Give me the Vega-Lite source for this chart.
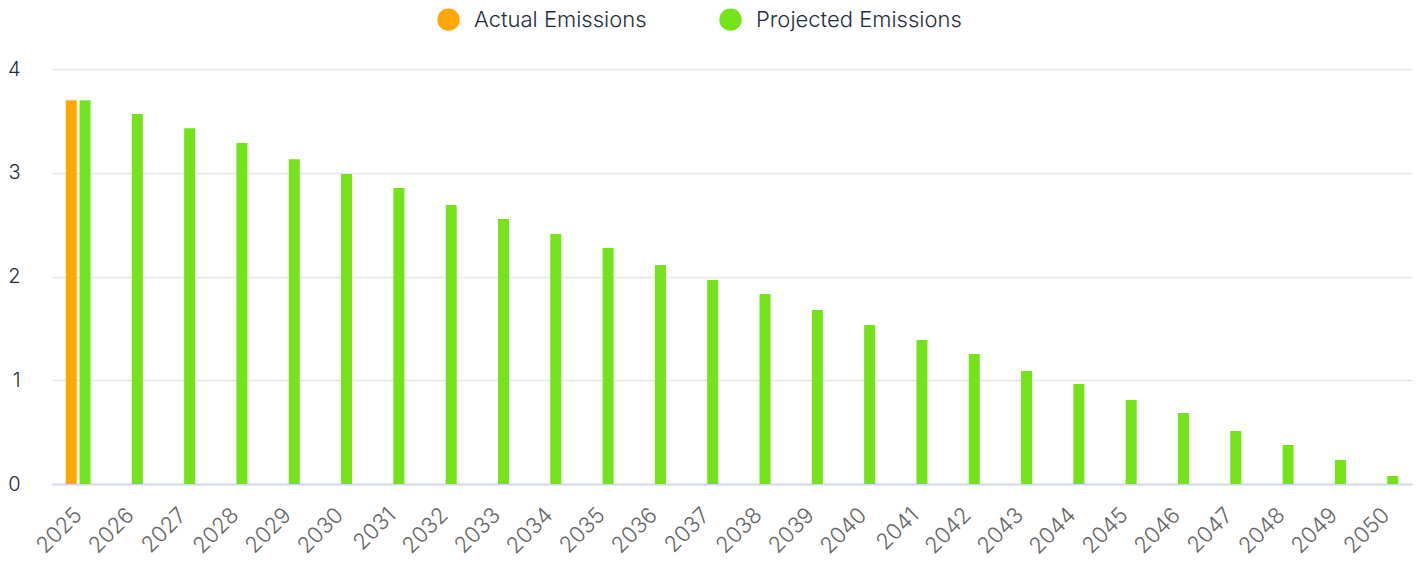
{
  "$schema": "https://vega.github.io/schema/vega-lite/v6.json",
  "width": 1360,
  "height": 415,
  "autosize": {"type": "none"},
  "padding": {"left": 52, "top": 69, "right": 13, "bottom": 81},
  "config": {
    "font": "Inter",
    "view": {"stroke": null},
    "axis": {"labelFont": "Inter", "titleFont": "Inter"},
    "legend": {"labelFont": "Inter"}
  },
  "data": {
    "values": [
      {"year": "2025", "series": "Actual Emissions", "value": 3.70},
      {"year": "2025", "series": "Projected Emissions", "value": 3.70},
      {"year": "2026", "series": "Projected Emissions", "value": 3.566},
      {"year": "2027", "series": "Projected Emissions", "value": 3.43},
      {"year": "2028", "series": "Projected Emissions", "value": 3.287},
      {"year": "2029", "series": "Projected Emissions", "value": 3.13},
      {"year": "2030", "series": "Projected Emissions", "value": 2.988},
      {"year": "2031", "series": "Projected Emissions", "value": 2.853},
      {"year": "2032", "series": "Projected Emissions", "value": 2.689},
      {"year": "2033", "series": "Projected Emissions", "value": 2.554},
      {"year": "2034", "series": "Projected Emissions", "value": 2.41},
      {"year": "2035", "series": "Projected Emissions", "value": 2.275},
      {"year": "2036", "series": "Projected Emissions", "value": 2.11},
      {"year": "2037", "series": "Projected Emissions", "value": 1.966},
      {"year": "2038", "series": "Projected Emissions", "value": 1.831},
      {"year": "2039", "series": "Projected Emissions", "value": 1.677},
      {"year": "2040", "series": "Projected Emissions", "value": 1.532},
      {"year": "2041", "series": "Projected Emissions", "value": 1.388},
      {"year": "2042", "series": "Projected Emissions", "value": 1.253},
      {"year": "2043", "series": "Projected Emissions", "value": 1.089},
      {"year": "2044", "series": "Projected Emissions", "value": 0.964},
      {"year": "2045", "series": "Projected Emissions", "value": 0.81},
      {"year": "2046", "series": "Projected Emissions", "value": 0.684},
      {"year": "2047", "series": "Projected Emissions", "value": 0.511},
      {"year": "2048", "series": "Projected Emissions", "value": 0.376},
      {"year": "2049", "series": "Projected Emissions", "value": 0.231},
      {"year": "2050", "series": "Projected Emissions", "value": 0.077}
    ]
  },
  "mark": {"type": "bar"},
  "encoding": {
    "x": {
      "field": "year",
      "type": "ordinal",
      "scale": {"paddingInner": 0, "paddingOuter": 0},
      "axis": {
        "title": null,
        "labelAngle": -45,
        "labelAlign": "right",
        "labelBaseline": "top",
        "labelFontSize": 22,
        "labelFontWeight": 300,
        "labelColor": "#666666",
        "labelPadding": 20,
        "labelOffset": -7,
        "ticks": false,
        "domainColor": "#d3dbe8",
        "domainWidth": 2,
        "grid": false
      }
    },
    "xOffset": {
      "field": "series",
      "type": "nominal",
      "scale": {"domain": ["Actual Emissions", "Projected Emissions"], "paddingInner": 0.2, "paddingOuter": 1.0}
    },
    "y": {
      "field": "value",
      "type": "quantitative",
      "scale": {"domain": [0, 4], "nice": false},
      "axis": {
        "title": null,
        "values": [0, 1, 2, 3, 4],
        "labelFontSize": 20,
        "labelFontWeight": 300,
        "labelColor": "#1a2b3c",
        "labelPadding": 32,
        "ticks": false,
        "domain": false,
        "gridColor": "#e6e6e6",
        "gridWidth": 1.5
      }
    },
    "color": {
      "field": "series",
      "type": "nominal",
      "scale": {"domain": ["Actual Emissions", "Projected Emissions"], "range": ["#ffa800", "#74e31c"]},
      "legend": {
        "title": null,
        "orient": "none",
        "legendX": 385,
        "legendY": -61,
        "direction": "horizontal",
        "symbolType": "circle",
        "symbolSize": 500,
        "symbolStrokeWidth": 0,
        "labelFontSize": 22,
        "labelFontWeight": 300,
        "labelLimit": 400,
        "labelColor": "#1e2d3d",
        "labelOffset": 14,
        "columnPadding": 72
      }
    }
  }
}
